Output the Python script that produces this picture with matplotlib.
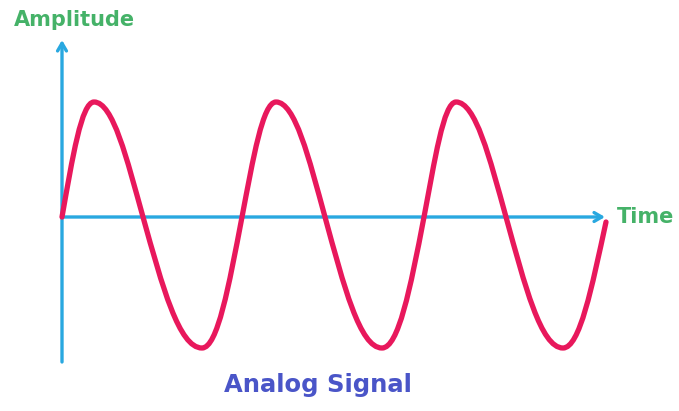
import numpy as np
import matplotlib
matplotlib.use("Agg")
import matplotlib.pyplot as plt
from matplotlib.path import Path
from matplotlib.patches import PathPatch

# key points of the wave (time, amplitude)
times = [0, 3.2, 8.1, 14.0, 18.0, 21.4, 26.3, 32.0, 36.2, 39.4, 44.4, 50.1, 54.4]
amps = [0, 1.15, 0, -1.31, 0, 1.15, 0, -1.31, 0, 1.15, 0, -1.31, -0.05]

y_axis_range = (-1.45, 1.77)
x_axis_end = 54.3

red = "#E8185C"
blue = "#29A8E0"
green = "#45B268"
navy = "#4A55C8"

fig = plt.figure(figsize=(6.79, 4.11), dpi=100)
ax = fig.add_axes([0, 0, 1, 1])
ax.set_xlim(-6.2, 61.7)
ax.set_ylim(-1.94, 2.17)
ax.axis("off")

# axes arrows
head = "->,head_length=0.55,head_width=0.32"
ax.annotate("", xy=(0, y_axis_range[1]), xytext=(0, y_axis_range[0]),
            arrowprops=dict(arrowstyle=head, lw=2.4, color=blue, shrinkA=0, shrinkB=0))
ax.annotate("", xy=(x_axis_end, 0), xytext=(0, 0),
            arrowprops=dict(arrowstyle=head, lw=2.4, color=blue, shrinkA=0, shrinkB=0))

# slopes: flat at peaks/troughs, sine-like through the crossings
t = np.array(times, dtype=float)
a = np.array(amps, dtype=float)
slope = np.zeros(len(t))
flat = np.abs(a) > 0.5
for i in range(len(t)):
    if flat[i]:
        continue
    lo = max(i - 1, 0)
    hi = min(i + 1, len(t) - 1)
    slope[i] = (a[hi] - a[lo]) / (t[hi] - t[lo]) * np.pi / 2

verts = [(t[0], a[0])]
codes = [Path.MOVETO]
for i in range(len(t) - 1):
    d = t[i + 1] - t[i]
    h0 = d * (0.39 if flat[i] else 0.33)
    h1 = d * (0.39 if flat[i + 1] else 0.33)
    verts += [(t[i] + h0, a[i] + slope[i] * h0),
              (t[i + 1] - h1, a[i + 1] - slope[i + 1] * h1),
              (t[i + 1], a[i + 1])]
    codes += [Path.CURVE4] * 3
wave = PathPatch(Path(verts, codes), fill=False, edgecolor=red, lw=3.8,
                 capstyle="round", joinstyle="round", zorder=3)
ax.add_patch(wave)

ax.text(-4.8, 1.97, "Amplitude", color=green, fontsize=15, fontweight="bold",
        family="DejaVu Sans", ha="left", va="center")
ax.text(55.5, 0.0, "Time", color=green, fontsize=15, fontweight="bold",
        family="DejaVu Sans", ha="left", va="center")
ax.text(25.6, -1.68, "Analog Signal", color=navy, fontsize=17.5, fontweight="bold",
        family="DejaVu Sans", ha="center", va="center")

fig.savefig("out.png", dpi=100)
